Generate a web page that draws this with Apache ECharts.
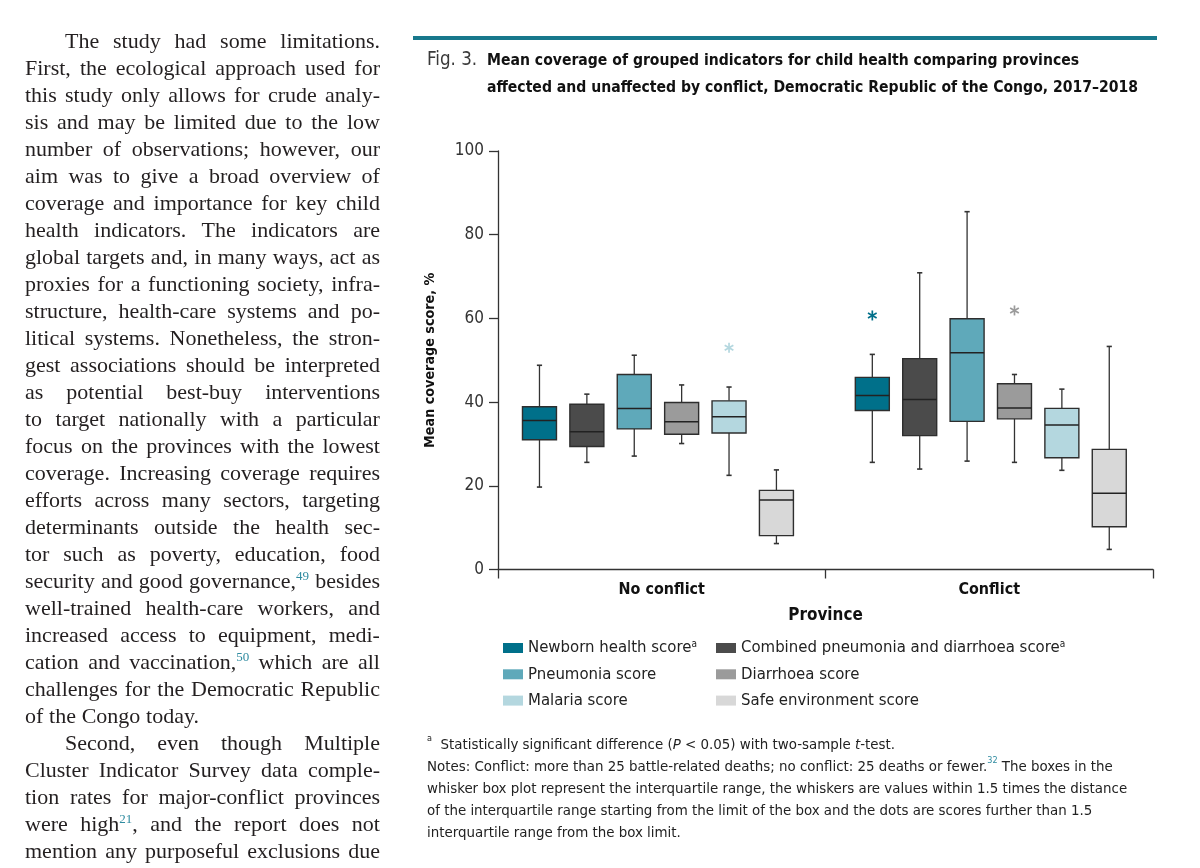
<!DOCTYPE html>
<html><head><meta charset="utf-8">
<script src="https://cdn.jsdelivr.net/npm/echarts@6/dist/echarts.min.js"></script>
<style>
html,body{margin:0;padding:0;background:#fff;width:1200px;height:868px;overflow:hidden;}
#chart{position:absolute;left:0;top:0;width:1200px;height:868px;}
#body{position:absolute;left:25px;top:27px;width:355px;font-family:"Liberation Serif","DejaVu Serif",serif;font-size:22px;color:#231f20;z-index:2;}
.ln{display:flex;justify-content:space-between;align-items:baseline;height:27px;line-height:27px;white-space:nowrap;}
.ln.ind{padding-left:40px;}
.ln.end{justify-content:flex-start;gap:0.26em;}
.ln sup{font-size:13px;color:#2f8ba0;vertical-align:0;position:relative;top:-8px;line-height:0;}
</style></head><body>
<div id="body"></div>
<div id="chart"></div>
<script>
// ---------------- data ----------------
const groups = ['No conflict', 'Conflict'];
const indicators = ['Newborn health score', 'Combined pneumonia and diarrhoea score', 'Pneumonia score',
                    'Diarrhoea score', 'Malaria score', 'Safe environment score'];
const significant = ['Newborn health score', 'Combined pneumonia and diarrhoea score'];
// [min, Q1, median, Q3, max] for [No conflict, Conflict]
const newborn   = [[19.7, 31.0, 35.6, 38.9, 48.8], [25.6, 38.0, 41.6, 45.9, 51.4]];
const combined  = [[25.6, 29.4, 32.9, 39.5, 41.9], [24.0, 32.0, 40.6, 50.4, 70.9]];
const pneumonia = [[27.1, 33.6, 38.5, 46.6, 51.2], [25.9, 35.4, 51.8, 59.9, 85.5]];
const diarrhoea = [[30.1, 32.3, 35.3, 39.9, 44.1], [25.6, 36.0, 38.6, 44.4, 46.6]];
const malaria   = [[22.5, 32.6, 36.5, 40.3, 43.6], [23.7, 26.7, 34.5, 38.5, 43.1]];
const safeEnv   = [[6.2, 8.1, 16.6, 18.9, 23.8], [4.8, 10.2, 18.2, 28.7, 53.3]];
// outliers: [group index, value]
const outNewborn   = [[1, 60.7]];
const outCombined  = [];
const outPneumonia = [];
const outDiarrhoea = [[1, 61.9]];
const outMalaria   = [[0, 53.0]];
const outSafeEnv   = [];
const yTicks = [0, 20, 40, 60, 80, 100];

const boxes = [newborn, combined, pneumonia, diarrhoea, malaria, safeEnv];
const outliers = [outNewborn, outCombined, outPneumonia, outDiarrhoea, outMalaria, outSafeEnv];
const colors = ['#00708a', '#4b4b4b', '#5fa9ba', '#9b9b9b', '#b4d7df', '#d8d8d8'];

const titleFig = 'Fig. 3.';
const titleLines = ['Mean coverage of grouped indicators for child health comparing provinces',
                    'affected and unaffected by conflict, Democratic Republic of the Congo, 2017\u20132018'];
const noteLines = [
  '{sup|a}  Statistically significant difference ({i|P} < 0.05) with two-sample {i|t}-test.',
  'Notes: Conflict: more than 25 battle-related deaths; no conflict: 25 deaths or fewer.{ref|32} The boxes in the',
  'whisker box plot represent the interquartile range, the whiskers are values within 1.5 times the distance',
  'of the interquartile range starting from the limit of the box and the dots are scores further than 1.5',
  'interquartile range from the box limit.'
];
const bodyLines = [
  '>The study had some limitations.',
  'First, the ecological approach used for',
  'this study only allows for crude analy-',
  'sis and may be limited due to the low',
  'number of observations; however, our',
  'aim was to give a broad overview of',
  'coverage and importance for key child',
  'health indicators. The indicators are',
  'global targets and, in many ways, act as',
  'proxies for a functioning society, infra-',
  'structure, health-care systems and po-',
  'litical systems. Nonetheless, the stron-',
  'gest associations should be interpreted',
  'as potential best-buy interventions',
  'to target nationally with a particular',
  'focus on the provinces with the lowest',
  'coverage. Increasing coverage requires',
  'efforts across many sectors, targeting',
  'determinants outside the health sec-',
  'tor such as poverty, education, food',
  'security and good governance,^49 besides',
  'well-trained health-care workers, and',
  'increased access to equipment, medi-',
  'cation and vaccination,^50 which are all',
  'challenges for the Democratic Republic',
  'of the Congo today.|',
  '>Second, even though Multiple',
  'Cluster Indicator Survey data comple-',
  'tion rates for major-conflict provinces',
  'were high^21, and the report does not',
  'mention any purposeful exclusions due'
];

// ---------------- body text ----------------
const bodyEl = document.getElementById('body');
bodyLines.forEach(l => {
  let cls = 'ln', t = l;
  if (t[0] === '>') { cls += ' ind'; t = t.slice(1); }
  if (t.endsWith('|')) { cls += ' end'; t = t.slice(0, -1); }
  const d = document.createElement('div');
  d.className = cls;
  d.innerHTML = t.split(' ').map(w => '<span>' + w.replace(/\^(\d+)/g, '<sup>$1</sup>') + '</span>').join('');
  bodyEl.appendChild(d);
});

// ---------------- fonts ----------------
function avail(f) {
  const c = document.createElement('canvas').getContext('2d');
  const s = 'mmmmmmmmmmlliWWabcxyz0123456789';
  let r = false;
  ['monospace', 'serif'].forEach(b => {
    c.font = '48px ' + b; const w1 = c.measureText(s).width;
    c.font = '48px "' + f + '", ' + b; const w2 = c.measureText(s).width;
    if (Math.abs(w1 - w2) > 0.5) r = true;
  });
  return r;
}
const condList = ['Liberation Sans Narrow', 'DejaVu Sans Condensed', 'Roboto Condensed', 'Open Sans Condensed'];
let cond = condList.find(avail);
const FONT = cond ? '"' + cond + '", Roboto, sans-serif' : 'Roboto, "Liberation Sans", sans-serif';
const mctx = document.createElement('canvas').getContext('2d');
function fit(text, weight, target, maxSize) {
  mctx.font = weight + ' 100px ' + FONT;
  const w = mctx.measureText(text).width;
  return Math.min(maxSize, Math.round(target * 100 / w * 10) / 10);
}
const fsTitle = fit(titleLines[1], 'bold', 653, 20);
const fsFig = fit(titleFig, 'normal', 50, 20);
const fsNote = fit(noteLines[2], 'normal', 700, 17);
const fsLegend = Math.min(17, fit('Combined pneumonia and diarrhoea score', 'normal', 290, 18) * 1.1);
const fsAxis = Math.min(17, fit('100', 'normal', 23, 17) * 1.3);
const fsCat = Math.min(19, fit('No conflict', 'bold', 72, 19) * 1.2);
const fsName = Math.min(20, fit('Mean coverage score, %', 'bold', 157, 20) * 1.12);

// ---------------- layout helpers ----------------
const SLOT = 0.1447, BOXW = 0.1038, SHIFT = [-0.0116, 0.0047];
function centerX(api, g, k) {
  const band = api.coord([1, 0])[0] - api.coord([0, 0])[0];
  return { cx: api.coord([g, 0])[0] + (k - 2.5) * band * SLOT + band * SHIFT[g], band };
}
function boxRender(k) {
  return function (params, api) {
    const g = api.value(0);
    const { cx, band } = centerX(api, g, k);
    const bw = band * BOXW;
    const Y = v => api.coord([g, v])[1];
    const mn = Y(api.value(1)), q1 = Y(api.value(2)), md = Y(api.value(3)), q3 = Y(api.value(4)), mx = Y(api.value(5));
    const ls = { stroke: '#333', lineWidth: 1.3 };
    const cs = { stroke: '#333', lineWidth: 1.6 };
    return { type: 'group', children: [
      { type: 'line', shape: { x1: cx, y1: q3, x2: cx, y2: mx }, style: ls },
      { type: 'line', shape: { x1: cx, y1: q1, x2: cx, y2: mn }, style: ls },
      { type: 'line', shape: { x1: cx - 2.6, y1: mx, x2: cx + 2.6, y2: mx }, style: cs },
      { type: 'line', shape: { x1: cx - 2.6, y1: mn, x2: cx + 2.6, y2: mn }, style: cs },
      { type: 'rect', shape: { x: cx - bw / 2, y: q3, width: bw, height: q1 - q3 },
        style: { fill: api.visual('color'), stroke: '#2e2e2e', lineWidth: 1.4 } },
      { type: 'line', shape: { x1: cx - bw / 2, y1: md, x2: cx + bw / 2, y2: md }, style: { stroke: '#222', lineWidth: 1.5 } }
    ]};
  };
}
function outRender(k) {
  return function (params, api) {
    const g = api.value(0);
    const { cx } = centerX(api, g, k);
    const cy = api.coord([g, api.value(1)])[1];
    const r = 5, st = { stroke: api.visual('color'), lineWidth: 1.7 };
    return { type: 'group', children: [
      { type: 'line', shape: { x1: cx, y1: cy - r, x2: cx, y2: cy + r }, style: st },
      { type: 'line', shape: { x1: cx - r * 0.866, y1: cy - r / 2, x2: cx + r * 0.866, y2: cy + r / 2 }, style: st },
      { type: 'line', shape: { x1: cx - r * 0.866, y1: cy + r / 2, x2: cx + r * 0.866, y2: cy - r / 2 }, style: st }
    ]};
  };
}

const series = [];
indicators.forEach((name, k) => {
  series.push({
    type: 'custom', name, itemStyle: { color: colors[k] },
    encode: { x: 0, y: [1, 2, 3, 4, 5] },
    data: boxes[k].map((d, i) => [i].concat(d)),
    renderItem: boxRender(k)
  });
  if (outliers[k].length) {
    series.push({
      type: 'custom', name, itemStyle: { color: colors[k] },
      encode: { x: 0, y: 1 },
      data: outliers[k],
      renderItem: outRender(k)
    });
  }
});

const legendText = {
  fontSize: fsLegend, fontFamily: FONT, color: '#222', lineHeight: 18,
  rich: { sup: { fontSize: Math.round(fsLegend * 0.58), fontFamily: FONT, color: '#222', verticalAlign: 'top', lineHeight: 18 } }
};
const legendFmt = n => significant.includes(n) ? n + '{sup|a}' : n;
const legendBase = { orient: 'vertical', icon: 'rect', itemWidth: 20, itemHeight: 10, itemGap: 8.3,
  padding: 0, textStyle: legendText, formatter: legendFmt, itemStyle: { borderWidth: 0 }, selectedMode: false };

const noteRich = {
  sup: { fontSize: Math.round(fsNote * 0.62), fontFamily: FONT, fill: '#222', verticalAlign: 'top', lineHeight: 22 },
  ref: { fontSize: Math.round(fsNote * 0.62), fontFamily: FONT, fill: '#2f8ba0', verticalAlign: 'top', lineHeight: 22 },
  i: { fontSize: fsNote, fontFamily: FONT, fontStyle: 'italic', fill: '#222', lineHeight: 22 }
};
const graphics = [
  { type: 'rect', shape: { x: 413, y: 36, width: 744, height: 4 }, style: { fill: '#17788c' } }
];
noteLines.forEach((t, i) => {
  graphics.push({ type: 'text', left: 427, top: 734 + i * 22,
    style: { text: t, fontSize: fsNote, fontFamily: FONT, fill: '#222', lineHeight: 22, rich: noteRich } });
});

const chart = echarts.init(document.getElementById('chart'), null, { renderer: 'canvas' });
chart.setOption({
  animation: false,
  textStyle: { fontFamily: FONT },
  title: [
    { text: titleFig, left: 427, top: 47, padding: 0,
      textStyle: { fontSize: fsFig, fontWeight: 'normal', color: '#3a3a3a', fontFamily: FONT, lineHeight: 27 } },
    { text: titleLines.join('\n'), left: 487, top: 47, padding: 0,
      textStyle: { fontSize: fsTitle, fontWeight: 'bold', color: '#111', fontFamily: FONT, lineHeight: 27 } }
  ],
  grid: { left: 498, top: 151, width: 655, height: 418.5, containLabel: false },
  xAxis: {
    type: 'category', data: groups, boundaryGap: true,
    axisLine: { show: true, lineStyle: { color: '#333', width: 1.3 } },
    axisTick: { show: true, length: 9, lineStyle: { color: '#333', width: 1.3 } },
    axisLabel: { fontSize: fsCat, fontWeight: 'bold', color: '#111', margin: 12, fontFamily: FONT },
    name: 'Province', nameLocation: 'middle', nameGap: 38,
    nameTextStyle: { fontSize: fsCat + 1, fontWeight: 'bold', color: '#111', fontFamily: FONT },
    splitLine: { show: false }
  },
  yAxis: {
    type: 'value', min: yTicks[0], max: yTicks[yTicks.length - 1], interval: yTicks[1] - yTicks[0],
    axisLine: { show: true, lineStyle: { color: '#333', width: 1.3 } },
    axisTick: { show: true, length: 9, lineStyle: { color: '#333', width: 1.3 } },
    axisLabel: { fontSize: fsAxis, color: '#333', margin: 14, fontFamily: FONT },
    splitLine: { show: false },
    name: 'Mean coverage score, %', nameLocation: 'middle', nameGap: 61, nameRotate: 90,
    nameTextStyle: { fontSize: fsName, fontWeight: 'bold', color: '#111', fontFamily: FONT }
  },
  legend: [
    Object.assign({}, legendBase, { left: 503, top: 639, data: [indicators[0], indicators[2], indicators[4]] }),
    Object.assign({}, legendBase, { left: 716, top: 639, data: [indicators[1], indicators[3], indicators[5]] })
  ],
  graphic: graphics,
  series
});
</script>
</body></html>
